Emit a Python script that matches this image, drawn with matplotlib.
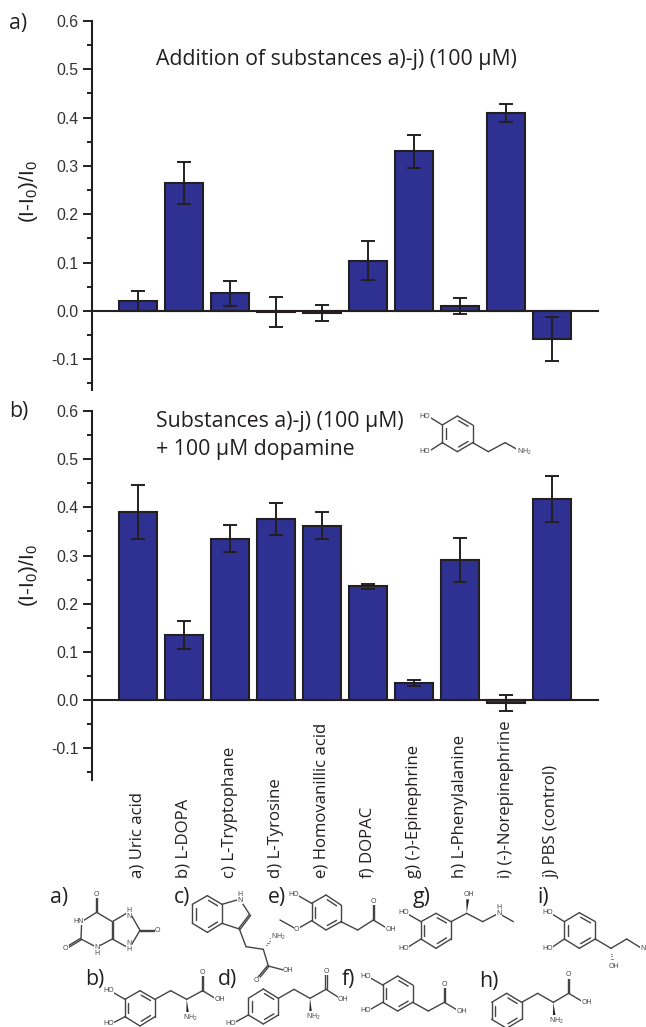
import matplotlib
matplotlib.use("Agg")
import matplotlib.pyplot as plt
from matplotlib.ticker import MultipleLocator, FixedLocator
from matplotlib.transforms import blended_transform_factory
from matplotlib.patches import Polygon

plt.rcParams['font.family'] = ['Open Sans', 'DejaVu Sans']
plt.rcParams['mathtext.default'] = 'regular'

W, H = 646, 1027
DARK = '#231F20'
BLUE = '#2E3192'
GREY = '#444444'

names = ['a) Uric acid', 'b) L-DOPA', 'c) L-Tryptophane', 'd) L-Tyrosine',
         'e) Homovanillic acid', 'f) DOPAC', 'g) (-)-Epinephrine',
         'h) L-Phenylalanine', 'i) (-)-Norepinephrine', 'j) PBS (control)']
positions = [1, 2, 3, 4, 5, 6, 7, 8, 9, 10]
values_a = [0.020, 0.265, 0.036, -0.002, -0.005, 0.104, 0.330, 0.010, 0.410, -0.058]
errors_a = [0.021, 0.044, 0.026, 0.031, 0.017, 0.040, 0.035, 0.016, 0.019, 0.045]
values_b = [0.390, 0.135, 0.335, 0.375, 0.362, 0.236, 0.035, 0.291, -0.006, 0.418]
errors_b = [0.056, 0.030, 0.028, 0.033, 0.028, 0.005, 0.006, 0.045, 0.016, 0.048]
yticks = [-0.1, 0.0, 0.1, 0.2, 0.3, 0.4, 0.5, 0.6]
ytick_labels = ['-0.1', '0.0', '0.1', '0.2', '0.3', '0.4', '0.5', '0.6']


def panel(top_px, zero_px, bottom_px, vals, errs):
    px_per_unit = (zero_px - top_px) / 0.6
    ymin = -(bottom_px - zero_px) / px_per_unit
    ax = fig.add_axes([92 / W, 1 - bottom_px / H, 506 / W, (bottom_px - top_px) / H])
    ax.set_xlim(0, 11)
    ax.set_ylim(ymin, 0.6)
    ax.patch.set_alpha(0)
    ax.bar(positions, vals, width=0.82, color=BLUE, edgecolor=DARK, linewidth=1.5, zorder=2)
    ax.errorbar(positions, vals, yerr=errs, fmt='none', ecolor=DARK, elinewidth=1.4,
                capsize=5, capthick=1.4, zorder=3)
    for s in ['top', 'right']:
        ax.spines[s].set_visible(False)
    ax.spines['bottom'].set_position(('data', 0))
    ax.spines['bottom'].set_linewidth(1.5)
    ax.spines['bottom'].set_color(DARK)
    ax.spines['bottom'].set_zorder(4)
    ax.spines['left'].set_linewidth(1.5)
    ax.spines['left'].set_color(DARK)
    ax.set_xticks([])
    ax.yaxis.set_major_locator(FixedLocator(yticks))
    ax.set_yticklabels(ytick_labels, family=['Liberation Sans'], fontsize=11.4, color='#333333')
    ax.yaxis.set_minor_locator(MultipleLocator(0.05))
    ax.tick_params(axis='y', which='major', length=6.5, width=1.4, color=DARK, pad=3)
    ax.tick_params(axis='y', which='minor', length=3.5, width=1.4, color=DARK)
    return ax


fig = plt.figure(figsize=(W / 100, H / 100), dpi=100)
ax_a = panel(21, 310.8, 390, values_a, errors_a)
ax_b = panel(411, 700, 780, values_b, errors_b)

ov = fig.add_axes([0, 0, 1, 1], zorder=10)
ov.set_xlim(0, W)
ov.set_ylim(H, 0)
ov.axis('off')
ov.patch.set_alpha(0)

FS = 15.3
ov.text(9, 23, 'a)', fontsize=FS, va='center', color=DARK)
ov.text(9, 412, 'b)', fontsize=FS, va='center', color=DARK)
ov.text(156, 59, 'Addition of substances a)-j) (100 µM)', fontsize=FS, va='center', color=DARK)
ov.text(156, 421, 'Substances a)-j) (100 µM)', fontsize=FS, va='center', color=DARK)
ov.text(156, 450, '+ 100 µM dopamine', fontsize=FS, va='center', color=DARK)
for yc in (192, 576):
    ov.text(28, yc, '(I-I$_0$)/I$_0$', fontsize=15, rotation=90, va='center', ha='center',
            color=DARK, family=['Liberation Sans'])

tr = blended_transform_factory(ax_b.transData, ov.transData)
for p, n in zip(positions, names):
    ov.text(p, 878, n, transform=tr, rotation=90, ha='center', va='bottom',
            fontsize=12.1, color=DARK, clip_on=False)

for s, x, y in [('a)', 50, 898), ('b)', 85, 980), ('c)', 174, 897), ('d)', 218, 980),
                ('e)', 268, 897), ('f)', 342, 979), ('g)', 413, 897), ('h)', 479, 981),
                ('i)', 537, 898)]:
    ov.text(x, y, s, fontsize=FS, ha='left', va='center', color=DARK)


def draw_mol(off, rings=(), bonds=(), doubles=(), wedges=(), hashes=(), labels=()):
    """Structure sketches given in 3x-crop coordinates with an (x, y) pixel offset."""
    def P(p):
        return off[0] + p[0] / 3, off[1] + p[1] / 3
    kw = dict(color=GREY, lw=1.0, solid_capstyle='round', clip_on=True)
    for r in rings:
        pts = [P(p) for p in r]
        n = len(pts)
        cx = sum(p[0] for p in pts) / n
        cy = sum(p[1] for p in pts) / n
        for i in range(n):
            a, b = pts[i], pts[(i + 1) % n]
            ov.plot([a[0], b[0]], [a[1], b[1]], **kw)
            if i % 2 == 0:
                f = 0.78
                ia = (cx + (a[0] - cx) * f + (b[0] - a[0]) * 0.08, cy + (a[1] - cy) * f + (b[1] - a[1]) * 0.08)
                ib = (cx + (b[0] - cx) * f - (b[0] - a[0]) * 0.08, cy + (b[1] - cy) * f - (b[1] - a[1]) * 0.08)
                ov.plot([ia[0], ib[0]], [ia[1], ib[1]], **kw)
    for a, b in bonds:
        a, b = P(a), P(b)
        ov.plot([a[0], b[0]], [a[1], b[1]], **kw)
    for a, b in doubles:
        a, b = P(a), P(b)
        dx, dy = b[0] - a[0], b[1] - a[1]
        L = (dx * dx + dy * dy) ** 0.5
        nx, ny = -dy / L * 0.8, dx / L * 0.8
        ov.plot([a[0] + nx, b[0] + nx], [a[1] + ny, b[1] + ny], **kw)
        ov.plot([a[0] - nx, b[0] - nx], [a[1] - ny, b[1] - ny], **kw)
    for a, b in wedges:
        a, b = P(a), P(b)
        ov.add_patch(Polygon([a, (b[0] - 1.4, b[1]), (b[0] + 1.4, b[1])], closed=True,
                             color='#222222', lw=0))
    for a, b in hashes:
        a, b = P(a), P(b)
        for k in range(1, 6):
            t = k / 5
            mx, my = a[0] + (b[0] - a[0]) * t, a[1] + (b[1] - a[1]) * t
            ov.plot([mx - 1.4 * t, mx + 1.4 * t], [my, my], color=GREY, lw=0.5)
    for s, p in labels:
        x, y = P(p)
        ov.text(x, y, s, fontsize=5.0, ha='center', va='center', color=GREY,
                family=['Liberation Sans'], clip_on=True, linespacing=0.9,
                bbox=dict(facecolor='white', edgecolor='none', pad=0.2))


Z1 = (0, 870)
Z2 = (316, 870)
Z4 = (380, 390)

# uric acid
draw_mol(Z1,
         bonds=[((290, 127), (245, 155)), ((245, 155), (243, 207)), ((243, 207), (290, 232)),
                ((290, 232), (337, 207)), ((337, 155), (290, 127)), ((337, 155), (388, 125)),
                ((388, 125), (420, 181)), ((420, 181), (388, 235)), ((388, 235), (337, 207))],
         doubles=[((290, 127), (290, 78)), ((243, 207), (200, 233)), ((420, 181), (468, 181)),
                  ((337, 207), (337, 155))],
         labels=[('O', (290, 73)), ('HN', (237, 155)), ('O', (197, 236)), ('N\nH', (290, 241)),
                 ('H\nN', (388, 130)), ('N\nH', (388, 230)), ('O', (473, 181))])
# tryptophan
draw_mol(Z1,
         rings=[[(622, 77), (666, 103), (666, 160), (622, 187), (577, 160), (577, 103)]],
         bonds=[((666, 103), (718, 88)), ((722, 92), (750, 135)), ((718, 177), (666, 160)),
                ((718, 177), (738, 230)), ((738, 230), (790, 238)), ((790, 238), (805, 288)),
                ((805, 288), (850, 300))],
         doubles=[((750, 135), (718, 177)), ((805, 288), (770, 330))],
         hashes=[((790, 238), (815, 205))],
         labels=[('H\nN', (720, 82)), ('NH$_2$', (835, 202)), ('OH', (865, 301)), ('O', (770, 332))])
# L-DOPA
draw_mol(Z1,
         rings=[[(420, 362), (465, 388), (465, 440), (420, 468), (375, 440), (375, 388)]],
         bonds=[((375, 388), (335, 365)), ((375, 440), (335, 461)), ((465, 388), (512, 362)),
                ((512, 362), (560, 388)), ((560, 388), (608, 362)), ((608, 362), (650, 388))],
         doubles=[((608, 362), (608, 312))],
         wedges=[((560, 388), (563, 432))],
         labels=[('HO', (325, 362)), ('HO', (325, 461)), ('O', (608, 308)), ('OH', (660, 388)),
                 ('NH$_2$', (572, 443))])
# L-tyrosine
draw_mol(Z1,
         rings=[[(790, 357), (835, 385), (835, 435), (790, 462), (745, 435), (745, 385)]],
         bonds=[((745, 435), (703, 458)), ((835, 385), (882, 358)), ((882, 358), (930, 385)),
                ((930, 385), (978, 358)), ((978, 358), (1020, 385))],
         doubles=[((978, 358), (978, 312))],
         wedges=[((930, 385), (932, 430))],
         labels=[('HO', (692, 461)), ('O', (978, 305)), ('OH', (1030, 388)), ('NH$_2$', (940, 440))])
# homovanillic acid
draw_mol(Z1,
         rings=[[(978, 75), (1023, 105), (1023, 155), (978, 180), (935, 152), (935, 100)]],
         bonds=[((935, 100), (893, 76)), ((935, 152), (895, 175)), ((885, 175), (840, 150)),
                ((1023, 155), (1073, 180)), ((1073, 180), (1120, 150)), ((1120, 150), (1163, 176))],
         doubles=[((1120, 150), (1120, 100))],
         labels=[('HO', (880, 72)), ('O', (890, 178)), ('O', (1120, 95)), ('OH', (1173, 178))])
# epinephrine
draw_mol(Z2,
         rings=[[(360, 130), (405, 155), (405, 207), (360, 235), (315, 207), (315, 155)]],
         bonds=[((315, 155), (275, 132)), ((315, 207), (275, 232)), ((405, 155), (452, 130)),
                ((452, 130), (500, 155)), ((500, 155), (548, 130)), ((548, 130), (592, 155))],
         wedges=[((452, 130), (455, 88))],
         labels=[('HO', (262, 128)), ('HO', (262, 235)), ('OH', (460, 75)), ('H\nN', (548, 122))])
# norepinephrine
draw_mol(Z2,
         rings=[[(790, 128), (838, 155), (838, 207), (790, 235), (745, 207), (745, 155)]],
         bonds=[((745, 155), (708, 132)), ((745, 207), (708, 232)), ((838, 207), (885, 235)),
                ((885, 235), (932, 207)), ((932, 207), (972, 232))],
         hashes=[((885, 235), (888, 275))],
         labels=[('HO', (695, 128)), ('HO', (695, 235)), ('OH', (893, 288)), ('N', (982, 235))])
# DOPAC
draw_mol(Z2,
         rings=[[(245, 318), (290, 345), (290, 397), (245, 423), (200, 397), (200, 345)]],
         bonds=[((200, 345), (160, 322)), ((200, 397), (160, 420)), ((290, 397), (337, 423)),
                ((337, 423), (385, 397)), ((385, 397), (427, 422))],
         doubles=[((385, 397), (385, 350))],
         labels=[('HO', (148, 318)), ('HO', (148, 423)), ('O', (385, 344)), ('OH', (437, 425))])
# L-phenylalanine
draw_mol(Z2,
         rings=[[(572, 370), (617, 397), (617, 448), (572, 475), (527, 448), (527, 397)]],
         bonds=[((617, 397), (665, 370)), ((665, 370), (712, 397)), ((712, 397), (758, 370)),
                ((758, 370), (800, 395))],
         doubles=[((758, 370), (758, 322))],
         wedges=[((712, 397), (715, 440))],
         labels=[('O', (758, 315)), ('OH', (812, 397)), ('NH$_2$', (722, 452))])
# dopamine
draw_mol(Z4,
         rings=[[(232, 78), (278, 105), (278, 158), (232, 185), (187, 158), (187, 105)]],
         bonds=[((187, 105), (150, 82)), ((187, 158), (150, 182)), ((278, 158), (325, 185)),
                ((325, 185), (375, 158)), ((375, 158), (415, 180))],
         labels=[('HO', (135, 78)), ('HO', (135, 185)), ('NH$_2$', (432, 187))])

fig.savefig('out.png', dpi=100)
